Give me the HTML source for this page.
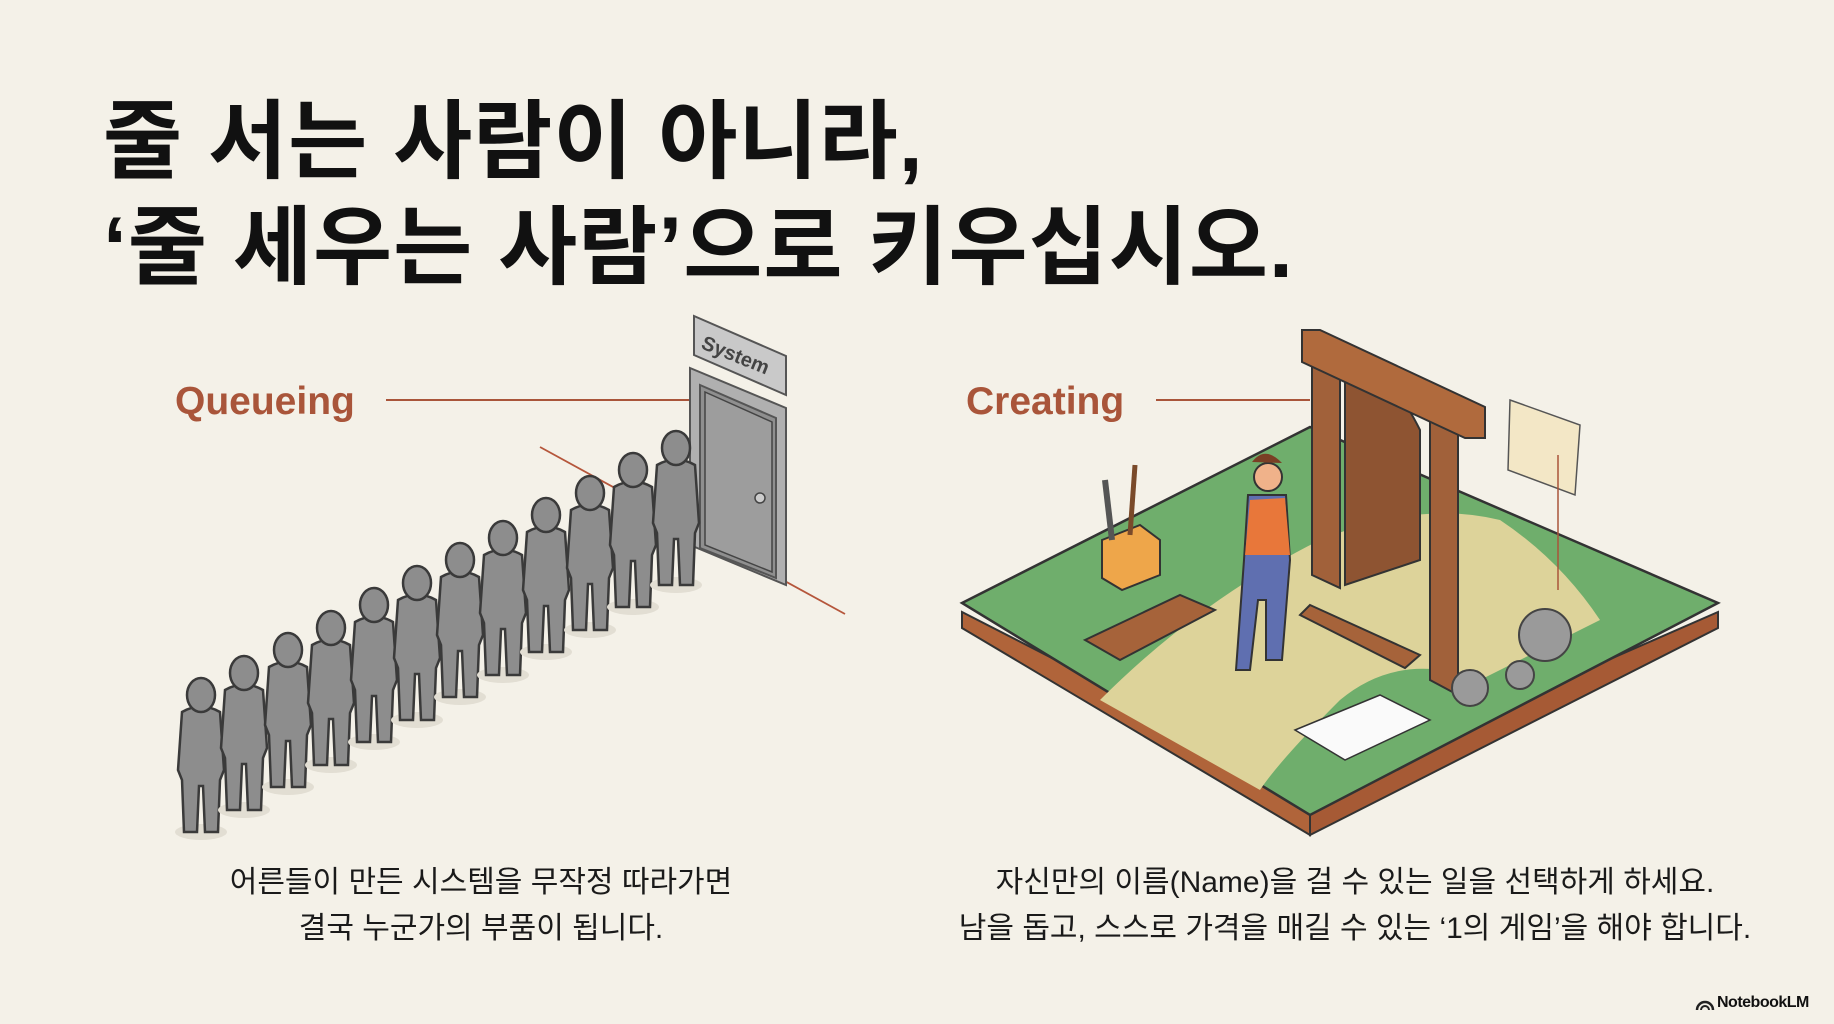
<!DOCTYPE html>
<html><head><meta charset="utf-8"><style>
html,body{margin:0;padding:0}
body{width:1834px;height:1024px;background:#f4f1e8;position:relative;overflow:hidden;font-family:"Liberation Sans","Noto Sans CJK KR",sans-serif;color:#111}
.t{position:absolute;left:103px;font-weight:bold;font-size:86px;letter-spacing:1px;line-height:1;white-space:nowrap}
.lbl{position:absolute;font-weight:bold;font-size:39px;color:#a9553a;white-space:nowrap;line-height:1}
.cap{position:absolute;font-size:30px;line-height:46px;text-align:center;white-space:nowrap;color:#1a1a1a}
svg{position:absolute;left:0;top:0}
</style></head><body>
<svg width="1834" height="1024" viewBox="0 0 1834 1024">
<defs>
<g id="p">
<ellipse cx="0" cy="150" rx="26" ry="8" fill="#e2ded3"/>
<path d="M-19 30 Q0 19 19 30 L23 88 L19 98 L17 150 L4 150 L2 104 L-2 104 L-4 150 L-17 150 L-19 98 L-23 88 Z" fill="#8d8d8d" stroke="#3a3a3a" stroke-width="2.5"/>
<ellipse cx="0" cy="13" rx="14" ry="17" fill="#8d8d8d" stroke="#3a3a3a" stroke-width="2.5"/>
</g>
</defs>
<line x1="386" y1="400" x2="690" y2="400" stroke="#a9553a" stroke-width="2"/>
<line x1="540" y1="447" x2="845" y2="614" stroke="#b5563b" stroke-width="1.8"/>
<polygon points="694,316 786,356 786,395 694,355" fill="#c9c9c9" stroke="#555" stroke-width="2"/>
<text x="700" y="348" font-size="20" font-weight="bold" fill="#444" transform="rotate(22 700 348)" font-family="Liberation Sans, sans-serif">System</text>
<polygon points="690,368 786,408 786,585 690,545" fill="#b0b0b0" stroke="#555" stroke-width="2"/>
<polygon points="700,385 776,418 776,578 700,548" fill="#8f8f8f" stroke="#555" stroke-width="2"/>
<polygon points="705,392 772,422 772,572 705,545" fill="#9d9d9d" stroke="#444" stroke-width="1.5"/>
<circle cx="760" cy="498" r="5" fill="#ccc" stroke="#444" stroke-width="1.5"/>
<g>
<use href="#p" x="201" y="682"/><use href="#p" x="244" y="660"/><use href="#p" x="288" y="637"/><use href="#p" x="331" y="615"/><use href="#p" x="374" y="592"/><use href="#p" x="417" y="570"/><use href="#p" x="460" y="547"/><use href="#p" x="503" y="525"/><use href="#p" x="546" y="502"/><use href="#p" x="590" y="480"/><use href="#p" x="633" y="457"/><use href="#p" x="676" y="435"/>
</g>
<line x1="1156" y1="400" x2="1310" y2="400" stroke="#a9553a" stroke-width="2"/>
<polygon points="962,612 1310,790 1310,835 962,628" fill="#b0643a" stroke="#333" stroke-width="2"/>
<polygon points="1310,790 1718,612 1718,628 1310,835" fill="#a65a35" stroke="#333" stroke-width="2"/>
<polygon points="962,603 1310,427 1718,603 1310,815" fill="#6fae6c" stroke="#333" stroke-width="2.5"/>
<path d="M1100 700 Q1200 600 1320 540 Q1420 500 1500 520 Q1560 560 1600 620 L1480 680 Q1400 650 1340 700 Q1280 760 1260 790 Z" fill="#ddd39a"/>
<polygon points="1312,345 1340,358 1340,588 1312,575" fill="#a1613a" stroke="#333" stroke-width="2"/>
<polygon points="1430,410 1458,423 1458,695 1430,680" fill="#a1613a" stroke="#333" stroke-width="2"/>
<path d="M1345 380 Q1380 350 1420 430 L1420 560 L1345 585 Z" fill="#8e5432" stroke="#333" stroke-width="2"/>
<polygon points="1302,330 1320,330 1485,407 1485,438 1465,438 1302,362" fill="#b06a3d" stroke="#333" stroke-width="2"/>
<circle cx="1268" cy="477" r="14" fill="#f0b28a" stroke="#333" stroke-width="2"/>
<path d="M1252 462 Q1265 445 1282 463 Z" fill="#7a3f25"/>
<path d="M1248 495 L1286 495 L1290 560 L1282 660 L1266 660 L1266 600 L1258 600 L1250 670 L1236 670 L1244 560 Z" fill="#5f6fb0" stroke="#333" stroke-width="2"/>
<path d="M1250 500 L1285 498 L1290 555 L1245 555 Z" fill="#e8773a"/>
<polygon points="1102,540 1140,525 1160,540 1160,575 1122,590 1102,578" fill="#eea64a" stroke="#333" stroke-width="2"/>
<line x1="1112" y1="540" x2="1105" y2="480" stroke="#555" stroke-width="6"/>
<line x1="1130" y1="535" x2="1135" y2="465" stroke="#7a4a2a" stroke-width="5"/>
<polygon points="1085,640 1180,595 1215,610 1120,660" fill="#a6633a" stroke="#333" stroke-width="2"/>
<polygon points="1310,605 1420,655 1405,668 1300,615" fill="#a6633a" stroke="#333" stroke-width="2"/>
<circle cx="1545" cy="635" r="26" fill="#9a9a9a" stroke="#444" stroke-width="2"/>
<circle cx="1470" cy="688" r="18" fill="#9a9a9a" stroke="#444" stroke-width="2"/>
<circle cx="1520" cy="675" r="14" fill="#9a9a9a" stroke="#444" stroke-width="2"/>
<polygon points="1295,730 1380,695 1430,720 1345,760" fill="#fafafa" stroke="#333" stroke-width="1.5"/>
<polygon points="1510,400 1580,425 1575,495 1508,470" fill="#f3e7c6" stroke="#555" stroke-width="1.5"/>
<line x1="1558" y1="455" x2="1558" y2="590" stroke="#a9553a" stroke-width="1.5"/>
<path d="M1697 1010 a8 8 0 0 1 16 0" fill="none" stroke="#222" stroke-width="2.5"/>
<path d="M1701 1010 a4 4 0 0 1 8 0" fill="none" stroke="#222" stroke-width="2"/>
</svg>
<div class="t" style="top:99px">줄 서는 사람이 아니라,</div>
<div class="t" style="top:205px">‘줄 세우는 사람’으로 키우십시오.</div>
<div class="lbl" style="left:175px;top:382px">Queueing</div>
<div class="lbl" style="left:966px;top:382px">Creating</div>
<div class="cap" style="left:181px;width:600px;top:860px">어른들이 만든 시스템을 무작정 따라가면<br>결국 누군가의 부품이 됩니다.</div>
<div class="cap" style="left:940px;width:830px;top:860px">자신만의 이름(Name)을 걸 수 있는 일을 선택하게 하세요.<br>남을 돕고, 스스로 가격을 매길 수 있는 ‘1의 게임’을 해야 합니다.</div>
<div style="position:absolute;left:1717px;top:994px;font-size:16px;font-weight:bold;letter-spacing:-0.5px">NotebookLM</div>
</body></html>
